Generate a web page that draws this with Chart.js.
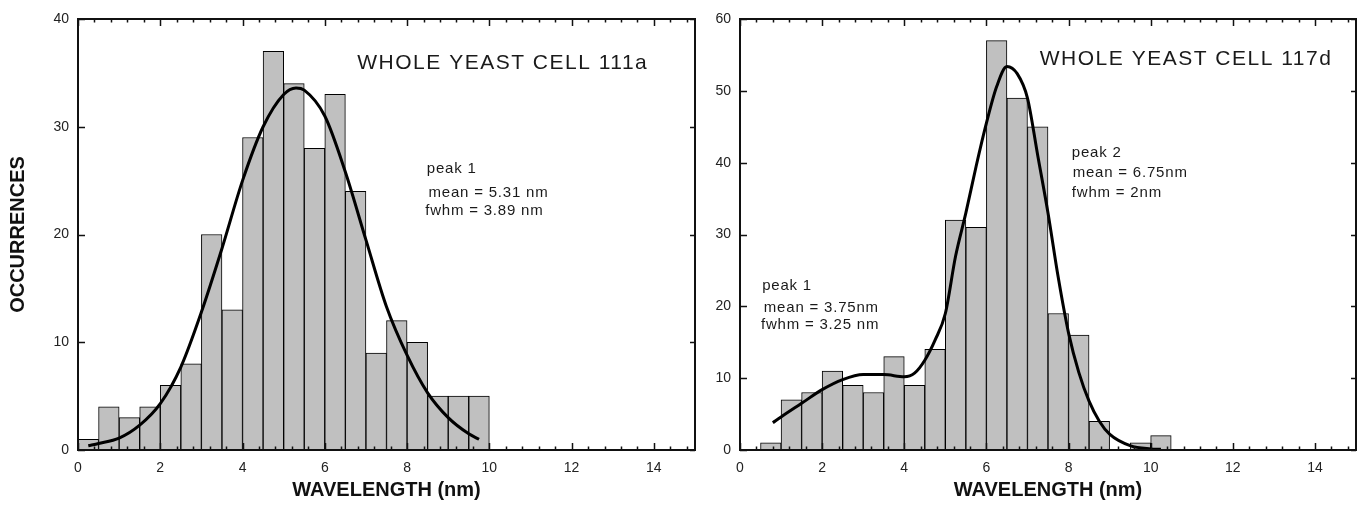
<!DOCTYPE html>
<html>
<head>
<meta charset="utf-8">
<script src="https://cdn.jsdelivr.net/npm/chart.js@4.4.1/dist/chart.umd.min.js"></script>
<style>
html,body{margin:0;padding:0;background:#fff;}
#wrap{position:relative;width:1361px;height:515px;overflow:hidden;background:#fff;}
.c{position:absolute;top:0;height:515px;}
#c1{left:0;width:700px;}
#c2{left:700px;width:661px;}
</style>
</head>
<body>
<div id="wrap">
  <div class="c" id="c1"><canvas id="left"></canvas></div>
  <div class="c" id="c2"><canvas id="right"></canvas></div>
</div>
<script>
// ---- tick labels ----
const xTicks = [0, 2, 4, 6, 8, 10, 12, 14];
const yTicksLeft = [0, 10, 20, 30, 40];
const yTicksRight = [0, 10, 20, 30, 40, 50, 60];

// ---- left histogram (WHOLE YEAST CELL 111a) ----
const binCentersLeft = [0.25, 0.75, 1.25, 1.75, 2.25, 2.75, 3.25, 3.75, 4.25, 4.75,
                        5.25, 5.75, 6.25, 6.75, 7.25, 7.75, 8.25, 8.75, 9.25, 9.75];
const countsLeft = [1, 4, 3, 4, 6, 8, 20, 13, 29, 37, 34, 28, 33, 24, 9, 12, 10, 5, 5, 5];
const fitXLeft = [0.25, 0.5, 1.0, 1.5, 2.0, 2.5, 3.0, 3.5, 4.0, 4.5, 5.0, 5.3, 5.5, 6.0,
                  6.5, 7.0, 7.5, 8.0, 8.5, 9.0, 9.5, 9.75];
const fitYLeft = [0.4, 0.6, 1.1, 2.3, 4.3, 7.7, 12.8, 18.7, 25.0, 30.0, 33.0, 33.6, 33.4, 31.0,
                  25.8, 19.5, 13.3, 8.8, 5.3, 3.0, 1.5, 1.0];

// ---- right histogram (WHOLE YEAST CELL 117d) ----
const binCentersRight = [0.25, 0.75, 1.25, 1.75, 2.25, 2.75, 3.25, 3.75, 4.25, 4.75, 5.25,
                         5.75, 6.25, 6.75, 7.25, 7.75, 8.25, 8.75, 9.25, 9.75, 10.25];
const countsRight = [0, 1, 7, 8, 11, 9, 8, 13, 9, 14, 32, 31, 57, 49, 45, 19, 16, 4, 0, 1, 2];
const fitXRight = [0.8, 1.0, 1.5, 2.0, 2.5, 3.0, 3.5, 4.0, 4.25, 4.5, 4.75, 5.0, 5.25, 5.5,
                   5.75, 6.0, 6.25, 6.5, 6.75, 7.0, 7.25, 7.5, 7.75, 8.0, 8.25, 8.5, 8.75,
                   9.0, 9.5, 10.0, 10.25];
const fitYRight = [3.8, 4.6, 6.5, 8.4, 9.8, 10.5, 10.5, 10.2, 10.7, 12.5, 15.3, 19.0, 27.0, 33.0,
                   39.5, 45.5, 50.6, 53.4, 52.4, 49.0, 41.0, 33.0, 24.0, 16.3, 10.8, 6.8, 4.0,
                   2.2, 0.6, 0.15, 0.1];

// ---- texts ----
const xTitle = 'WAVELENGTH (nm)';
const yTitle = 'OCCURRENCES';
const notesLeft = [
  {text: 'WHOLE YEAST CELL 111a', x: 6.79, y: 35.4, big: true},
  {text: 'peak 1', x: 8.48, y: 25.7},
  {text: 'mean = 5.31 nm', x: 8.52, y: 23.5},
  {text: 'fwhm = 3.89 nm', x: 8.44, y: 21.8}
];
const notesRight = [
  {text: 'WHOLE YEAST CELL 117d', x: 7.30, y: 53.6, big: true},
  {text: 'peak 2', x: 8.08, y: 40.8},
  {text: 'mean = 6.75nm', x: 8.10, y: 38.0},
  {text: 'fwhm = 2nm', x: 8.08, y: 35.2},
  {text: 'peak 1', x: 0.54, y: 22.3},
  {text: 'mean = 3.75nm', x: 0.58, y: 19.2},
  {text: 'fwhm = 3.25 nm', x: 0.51, y: 16.9}
];

const FAMILY = "'Liberation Sans', Arial, sans-serif";

function framePlugin(o) {
  return {
    id: 'frameAndNotes',
    afterDraw(chart) {
      const {ctx, chartArea: a, scales} = chart;
      const xs = scales.x, ys = scales.y;
      ctx.save();
      // inward tick marks
      ctx.strokeStyle = '#111';
      ctx.lineWidth = 1.5;
      ctx.beginPath();
      for (let i = 0; i * 0.4 < 15; i++) {
        const v = i * 0.4;
        const px = Math.round(xs.getPixelForValue(v)) + 0.5;
        const len = (i % 5 === 0) ? 7 : 3.5;
        ctx.moveTo(px, a.bottom); ctx.lineTo(px, a.bottom - len);
        ctx.moveTo(px, a.top); ctx.lineTo(px, a.top + len);
      }
      o.yTicks.forEach(v => {
        const py = Math.round(ys.getPixelForValue(v)) + 0.5;
        ctx.moveTo(a.left, py); ctx.lineTo(a.left + 7, py);
        ctx.moveTo(a.right, py); ctx.lineTo(a.right - 5, py);
      });
      ctx.stroke();
      // frame
      ctx.lineWidth = 2;
      ctx.strokeRect(a.left, a.top, a.right - a.left, a.bottom - a.top);
      // notes
      ctx.fillStyle = '#1a1a1a';
      ctx.textBaseline = 'alphabetic';
      ctx.textAlign = 'left';
      o.notes.forEach(n => {
        if (n.big) {
          ctx.font = '21px ' + FAMILY;
          ctx.letterSpacing = '1.5px';
        } else {
          ctx.font = '15px ' + FAMILY;
          ctx.letterSpacing = '0.8px';
        }
        ctx.fillText(n.text, xs.getPixelForValue(n.x), ys.getPixelForValue(n.y));
      });
      ctx.restore();
    }
  };
}

function makeChart(id, o) {
  const lineData = o.fitX.map((x, i) => ({x: x, y: o.fitY[i]}));
  const barData = o.centers.map((x, i) => ({x: x, y: o.counts[i]}));
  return new Chart(document.getElementById(id), {
    type: 'bar',
    data: {
      datasets: [
        {type: 'line', data: lineData, borderColor: '#000', borderWidth: 3, pointRadius: 0,
         cubicInterpolationMode: 'monotone', fill: false, order: 0},
        {type: 'bar', data: barData, backgroundColor: '#c0c0c0', borderColor: '#000', borderWidth: 1,
         barPercentage: 1, categoryPercentage: 1, order: 1}
      ]
    },
    options: {
      responsive: true,
      maintainAspectRatio: false,
      animation: false,
      devicePixelRatio: 1,
      layout: {padding: {top: 19, right: o.padRight, left: 0, bottom: 0}},
      plugins: {legend: {display: false}, tooltip: {enabled: false}, title: {display: false}},
      scales: {
        x: {
          type: 'linear', min: 0, max: 15, offset: false,
          grid: {display: false, drawTicks: false}, border: {display: false},
          afterBuildTicks: s => { s.ticks = xTicks.map(v => ({value: v})); },
          afterFit: s => { s.height = 65; },
          ticks: {padding: 10, font: {family: FAMILY, size: 14}, color: '#222', maxRotation: 0, autoSkip: false},
          title: {display: true, text: xTitle, font: {family: FAMILY, size: 20, weight: 'bold'},
                  color: '#111', padding: {top: 0, bottom: 13}}
        },
        y: {
          type: 'linear', min: 0, max: o.yMax,
          grid: {display: false, drawTicks: false}, border: {display: false},
          afterBuildTicks: s => { s.ticks = o.yTicks.map(v => ({value: v})); },
          afterFit: s => { s.width = o.yWidth; },
          ticks: {padding: 9, font: {family: FAMILY, size: 14}, color: '#222', autoSkip: false},
          title: {display: o.showYTitle, text: yTitle, font: {family: FAMILY, size: 20, weight: 'bold'},
                  color: '#111', padding: {top: 6, bottom: 0}}
        }
      }
    },
    plugins: [framePlugin(o)]
  });
}

makeChart('left', {
  centers: binCentersLeft, counts: countsLeft, fitX: fitXLeft, fitY: fitYLeft,
  yMax: 40, yTicks: yTicksLeft, yWidth: 78, padRight: 5, showYTitle: true, notes: notesLeft
});
makeChart('right', {
  centers: binCentersRight, counts: countsRight, fitX: fitXRight, fitY: fitYRight,
  yMax: 60, yTicks: yTicksRight, yWidth: 40, padRight: 5, showYTitle: false, notes: notesRight
});
</script>
</body>
</html>
